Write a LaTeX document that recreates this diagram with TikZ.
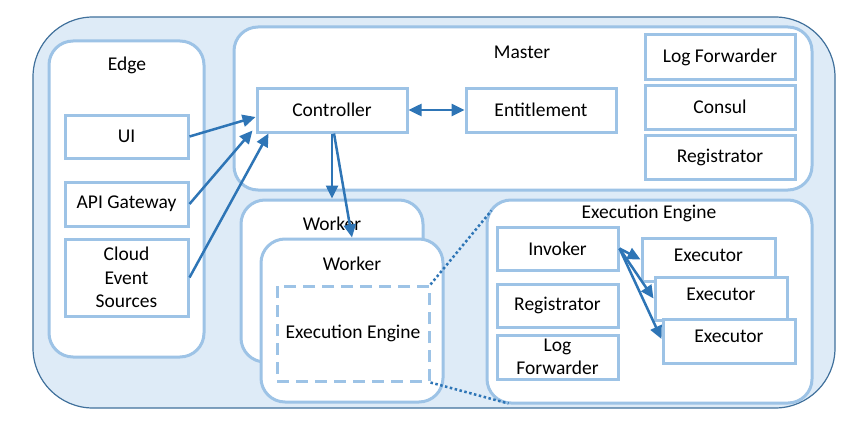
\documentclass[tikz,border=0pt]{standalone}
\usepackage{fontspec}
\setmainfont{Carlito}
\usetikzlibrary{arrows.meta,calc}
\definecolor{fillblue}{HTML}{DEEBF7}
\definecolor{outerblue}{HTML}{41719C}
\definecolor{lightblue}{HTML}{9DC3E6}
\definecolor{arrowblue}{HTML}{2E75B6}
\begin{document}
\begin{tikzpicture}[x=1pt,y=-1pt,
  font=\fontsize{19.5}{23.5}\selectfont,
  outerbox/.style={draw=outerblue,fill=fillblue,line width=1.2pt,rounded corners=60pt,inner sep=0pt},
  container/.style={draw=lightblue,fill=white,line width=3pt,rounded corners=24pt,inner sep=0pt},
  box/.style={draw=lightblue,fill=white,line width=3pt,inner sep=0pt,align=center},
  dashbox/.style={draw=lightblue,fill=white,line width=3pt,dash pattern=on 12pt off 7pt,inner sep=0pt},
  lbl/.style={inner sep=0pt},
  arr/.style={draw=arrowblue,line width=2.5pt,-{Triangle[length=13pt,width=12pt]}},
  darr/.style={draw=arrowblue,line width=2.5pt,{Triangle[length=13pt,width=12pt]}-{Triangle[length=13pt,width=12pt]}},
  dotline/.style={draw=arrowblue,line width=2.5pt,dash pattern=on 2.5pt off 2.5pt}
]
\useasboundingbox (0,0) rectangle (850,428);
% outer
\node[outerbox,minimum width=802pt,minimum height=391pt] (outer) at (434,212.5) {};
% containers
\node[container,minimum width=155pt,minimum height=316pt] (edge) at (126.5,199) {};
\node[lbl] (edgelbl) at (127,65) {Edge};
\node[container,minimum width=578pt,minimum height=163pt] (master) at (523,108.5) {};
\node[lbl] (masterlbl) at (522,52) {Master};
\node[container,minimum width=182pt,minimum height=162pt] (wback) at (332,281) {};
\node[lbl] (wbacklbl) at (332,224) {Worker};
\node[container,minimum width=182pt,minimum height=163pt] (wfront) at (352,320.5) {};
\node[lbl] (wfrontlbl) at (352,264) {Worker};
\node[dashbox,minimum width=152pt,minimum height=95pt] (dash) at (353,333.5) {Execution Engine};
\node[container,minimum width=325pt,minimum height=203pt] (ee) at (649.5,301.5) {};
\node[lbl] (eelbl) at (649,213) {Execution Engine};
% edge boxes
\node[box,minimum width=123pt,minimum height=43pt] (ui) at (126.5,136.5) {UI};
\node[box,minimum width=123pt,minimum height=44pt] (api) at (126.5,204) {API Gateway};
\node[box,minimum width=123pt,minimum height=77pt] (cloud) at (126.5,277.5) {Cloud\\Event\\Sources};
% master boxes
\node[box,minimum width=150pt,minimum height=44pt] (ctrl) at (332,110) {Controller};
\node[box,minimum width=150pt,minimum height=44pt] (ent) at (541,110) {Entitlement};
\node[box,minimum width=150pt,minimum height=44pt] (logf) at (720,57) {Log Forwarder};
\node[box,minimum width=150pt,minimum height=44pt] (consul) at (720,107) {Consul};
\node[box,minimum width=150pt,minimum height=44pt] (reg) at (720,157) {Registrator};
% execution engine boxes
\node[box,minimum width=121pt,minimum height=43pt] (inv) at (557.5,248.5) {Invoker};
\node[box,minimum width=121pt,minimum height=43pt] (reg2) at (557.5,305.5) {Registrator};
\node[box,minimum width=121pt,minimum height=44pt] (logf2) at (557.5,357) {Log\\Forwarder};
\node[box,minimum width=133pt,minimum height=43pt,text depth=9pt] (ex1) at (708.5,259.5) {Executor};
\node[box,minimum width=132pt,minimum height=43pt,text depth=9pt] (ex2) at (721,298.5) {Executor};
\node[box,minimum width=132pt,minimum height=44pt,text depth=9pt] (ex3) at (729,341) {Executor};
% dotted zoom lines
\coordinate (eetop) at ($(ee.north west)+(6,12)$);
\coordinate (eebot) at ($(ee.south west)+(23,-1)$);
\draw[dotline] (dash.north east) -- (eetop);
\draw[dotline] (dash.south east) -- (eebot);
% arrows
\draw[arr] (ui.east) -- ($(ctrl.west)+(0,7)$);
\draw[arr] (api.east) -- ($(ctrl.south west)+(-3,-3)$);
\draw[arr] (cloud.east) -- ($(ctrl.south west)+(13,0)$);
\draw[darr] (ctrl.east) -- (ent.west);
\draw[arr] (ctrl.south) -- (wback.north);
\draw[arr] ($(ctrl.south)+(2,0)$) -- (wfront.north);
\draw[arr] (inv.east) -- (ex1.west);
\draw[arr] (inv.east) -- (ex2.west);
\draw[arr] (inv.east) -- ($(ex3.west)+(0,-2)$);
\end{tikzpicture}
\end{document}
